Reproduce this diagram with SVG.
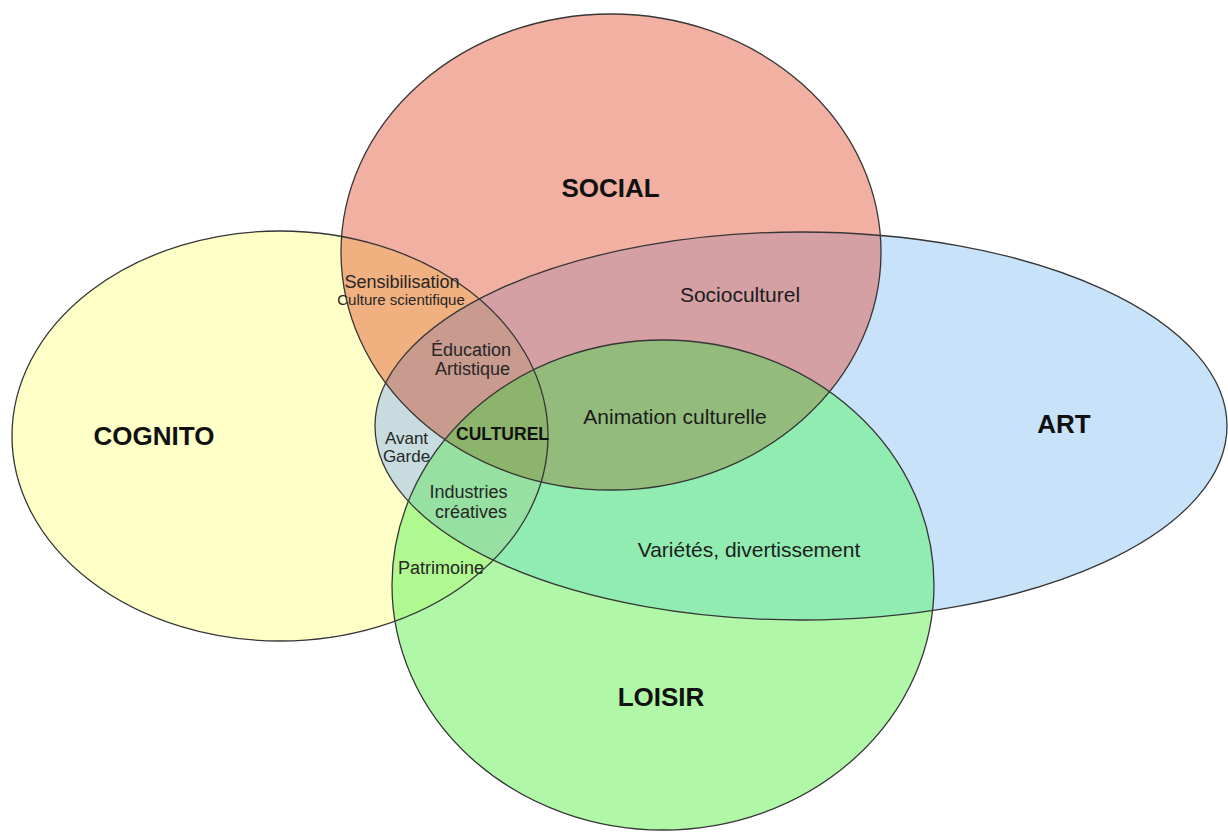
<svg xmlns="http://www.w3.org/2000/svg" xmlns:xlink="http://www.w3.org/1999/xlink" width="1228" height="832" viewBox="0 0 1228 832">
  <style>
    .outline { fill: none; stroke: #363636; stroke-width: 1.3; }
    .big { font-family: "Liberation Sans", Arial, sans-serif; font-weight: bold; font-size: 26px; fill: #111; text-anchor: middle; }
    .mid { font-family: "Liberation Sans", Arial, sans-serif; font-size: 21px; fill: #1c1c1c; text-anchor: middle; }
    .sm { font-family: "Liberation Sans", Arial, sans-serif; font-size: 18px; fill: #262626; text-anchor: middle; }
  </style>
  <defs>
    <ellipse id="eC" cx="280" cy="436" rx="268" ry="205"/>
    <ellipse id="eS" cx="611" cy="252" rx="270" ry="238"/>
    <ellipse id="eA" cx="801" cy="426" rx="426" ry="194"/>
    <ellipse id="eL" cx="663" cy="585" rx="271" ry="245"/>
    <clipPath id="cC"><ellipse cx="280" cy="436" rx="268" ry="205"/></clipPath>
    <clipPath id="cS"><ellipse cx="611" cy="252" rx="270" ry="238"/></clipPath>
    <clipPath id="cA"><ellipse cx="801" cy="426" rx="426" ry="194"/></clipPath>
    <clipPath id="cL"><ellipse cx="663" cy="585" rx="271" ry="245"/></clipPath>
  </defs>
  <rect width="1228" height="832" fill="#ffffff"/>

  <g id="fills">
    <use xlink:href="#eC" fill="#ffffc8"/>
    <use xlink:href="#eA" fill="#c8e2fa"/>
    <use xlink:href="#eS" fill="#f2b0a2"/>
    <use xlink:href="#eL" fill="#b0f8a8"/>
    <!-- pairs -->
    <g clip-path="url(#cC)"><use xlink:href="#eS" fill="#f0b080"/></g>
    <g clip-path="url(#cC)"><use xlink:href="#eA" fill="#c8dce0"/></g>
    <g clip-path="url(#cC)"><use xlink:href="#eL" fill="#b0f890"/></g>
    <g clip-path="url(#cS)"><use xlink:href="#eA" fill="#d4a0a4"/></g>
    <g clip-path="url(#cS)"><use xlink:href="#eL" fill="#9cc978"/></g>
    <g clip-path="url(#cA)"><use xlink:href="#eL" fill="#90ecb0"/></g>
    <!-- triples -->
    <g clip-path="url(#cC)"><g clip-path="url(#cS)"><use xlink:href="#eA" fill="#c99a8e"/></g></g>
    <g clip-path="url(#cC)"><g clip-path="url(#cA)"><use xlink:href="#eL" fill="#96e0a2"/></g></g>
    <g clip-path="url(#cS)"><g clip-path="url(#cA)"><use xlink:href="#eL" fill="#93bb7b"/></g></g>
    <g clip-path="url(#cC)"><g clip-path="url(#cS)"><use xlink:href="#eL" fill="#a0c060"/></g></g>
    <!-- all four -->
    <g clip-path="url(#cC)"><g clip-path="url(#cS)"><g clip-path="url(#cA)"><use xlink:href="#eL" fill="#8cb46c"/></g></g></g>
  </g>

  <g id="node-cognito">
    <use xlink:href="#eC" class="outline"/>
    <text class="big" x="154" y="445">COGNITO</text>
  </g>
  <g id="node-art">
    <use xlink:href="#eA" class="outline"/>
    <text class="big" x="1064" y="433">ART</text>
  </g>
  <g id="node-social">
    <use xlink:href="#eS" class="outline"/>
    <text class="big" x="610.5" y="197">SOCIAL</text>
  </g>
  <g id="node-loisir">
    <use xlink:href="#eL" class="outline" stroke="#2c3f2c"/>
    <text class="big" x="661" y="706">LOISIR</text>
  </g>

  <g id="label-socioculturel"><text class="mid" x="740" y="302">Socioculturel</text></g>
  <g id="label-animation"><text class="mid" x="675" y="424">Animation culturelle</text></g>
  <g id="label-varietes"><text class="mid" x="749" y="557">Variétés, divertissement</text></g>
  <g id="label-sensibilisation">
    <text class="sm" x="402" y="288">Sensibilisation</text>
    <text class="sm" x="401" y="305" style="font-size:15px">Culture scientifique</text>
  </g>
  <g id="label-education">
    <text class="sm" x="471" y="356">Éducation</text>
    <text class="sm" x="472.5" y="375">Artistique</text>
  </g>
  <g id="label-culturel"><text class="big" x="502.5" y="440" style="font-size:17.5px">CULTUREL</text></g>
  <g id="label-avantgarde">
    <text class="sm" x="406.5" y="444" style="font-size:17px">Avant</text>
    <text class="sm" x="406.5" y="462" style="font-size:17px">Garde</text>
  </g>
  <g id="label-industries">
    <text class="sm" x="468.5" y="498">Industries</text>
    <text class="sm" x="471" y="518">créatives</text>
  </g>
  <g id="label-patrimoine"><text class="sm" x="441" y="574">Patrimoine</text></g>
</svg>
